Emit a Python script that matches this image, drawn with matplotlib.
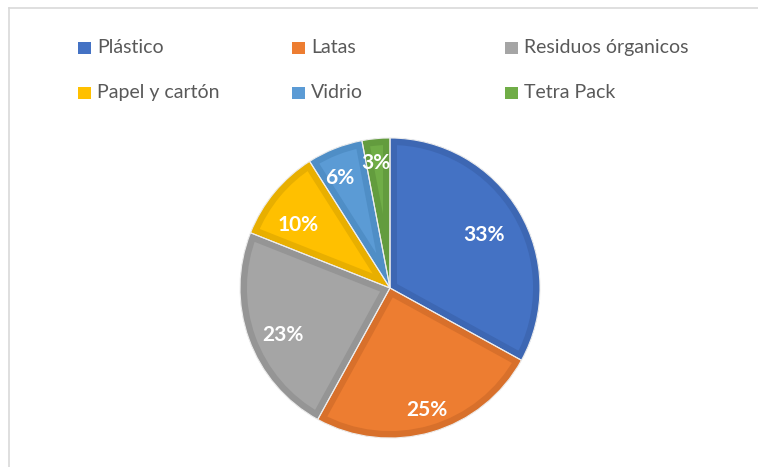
import matplotlib
matplotlib.use("Agg")
import matplotlib.pyplot as plt
from matplotlib.patches import Wedge, Rectangle
from matplotlib.lines import Line2D
import numpy as np

categories = ["Plástico", "Latas", "Residuos órganicos", "Papel y cartón", "Vidrio", "Tetra Pack"]
values = [33, 25, 23, 10, 6, 3]
labels = ["33%", "25%", "23%", "10%", "6%", "3%"]
colors = ["#4472C4", "#ED7D31", "#A5A5A5", "#FFC000", "#5B9BD5", "#70AD47"]
edge_colors = ["#3D67B3", "#D8702B", "#959595", "#E8AF00", "#4F8EC6", "#639C3E"]

plt.rcParams['font.family'] = ['Lato', 'DejaVu Sans']

W, H = 758, 467
fig = plt.figure(figsize=(W / 100, H / 100), dpi=100)
ax = fig.add_axes([0, 0, 1, 1])

cx, cy, R = 390, H - 288, 150
wedges, _ = ax.pie(values, colors=colors, startangle=90, counterclock=False,
                   center=(cx, cy), radius=R,
                   wedgeprops=dict(edgecolor='none', linewidth=0))
ax.set_xlim(0, W)
ax.set_ylim(0, H)
ax.set_aspect('equal')
ax.axis('off')

# bevel-like inner band
for w, ec in zip(wedges, edge_colors):
    band = Wedge(w.center, w.r, w.theta1, w.theta2, facecolor='none',
                 edgecolor=ec, linewidth=10, zorder=2)
    ax.add_patch(band)
    band.set_clip_path(w)
    sep = Wedge(w.center, w.r, w.theta1, w.theta2, facecolor='none',
                edgecolor='#EDEDED', linewidth=0.8, zorder=3)
    ax.add_patch(sep)

# label placement (Excel "best fit")
dists = [0.72, 0.85, 0.78, 0.74, 0.81, 0.84]
angle_off = [-1, 0.7, 4, 5, 3, 1]
for w, lab, d, off in zip(wedges, labels, dists, angle_off):
    th = np.deg2rad((w.theta1 + w.theta2) / 2 + off)
    ax.text(cx + d * R * np.cos(th), cy + d * R * np.sin(th), lab,
            ha='center', va='center', color='white', fontsize=15,
            fontweight='bold', zorder=5)

# legend (manual)
col_x = [78, 292, 505]
row_y = [47.5, 92.5]
for i, (cat, col) in enumerate(zip(categories, colors)):
    x = col_x[i % 3]
    y = row_y[i // 3]
    fig.patches.append(Rectangle((x / W, 1 - (y + 6) / H), 13 / W, 12 / H,
                                 transform=fig.transFigure, facecolor=col,
                                 edgecolor='none'))
    fig.text((x + 19) / W, 1 - y / H, cat, ha='left', va='center',
             fontsize=14, color='#595959')

# chart border (left and top)
fig.lines.append(Line2D([8.5 / W, 8.5 / W], [0, 1 - 7.5 / H],
                        transform=fig.transFigure, color='#D9D9D9', lw=1.2))
fig.lines.append(Line2D([8.5 / W, 1], [1 - 7.5 / H, 1 - 7.5 / H],
                        transform=fig.transFigure, color='#D9D9D9', lw=1.2))

fig.savefig("out.png", dpi=100, facecolor='white')
